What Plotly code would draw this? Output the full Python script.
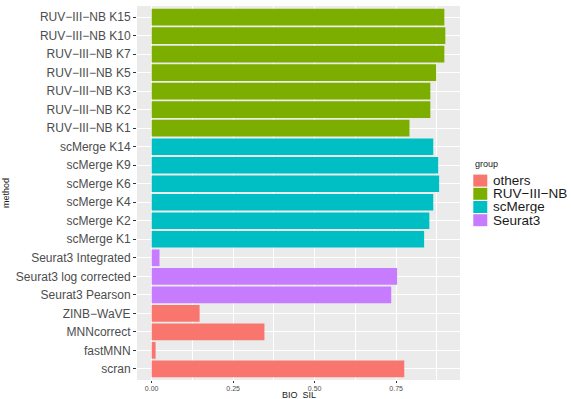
import plotly.graph_objects as go

# BIO_SIL score per method, grouped by method family (bottom-to-top display order)
methods_others = ["scran", "fastMNN", "MNNcorrect", "ZINB\u2212WaVE"]
sil_others = [0.775, 0.012, 0.346, 0.147]

methods_seurat = ["Seurat3 Pearson", "Seurat3 log corrected", "Seurat3 Integrated"]
sil_seurat = [0.735, 0.753, 0.024]

methods_scmerge = ["scMerge K1", "scMerge K2", "scMerge K4", "scMerge K6", "scMerge K9", "scMerge K14"]
sil_scmerge = [0.836, 0.852, 0.864, 0.882, 0.879, 0.864]

methods_ruv = ["RUV\u2212III\u2212NB K1", "RUV\u2212III\u2212NB K2", "RUV\u2212III\u2212NB K3",
               "RUV\u2212III\u2212NB K5", "RUV\u2212III\u2212NB K7", "RUV\u2212III\u2212NB K10",
               "RUV\u2212III\u2212NB K15"]
sil_ruv = [0.791, 0.855, 0.855, 0.873, 0.898, 0.901, 0.898]

category_order = methods_others + methods_seurat + methods_scmerge + methods_ruv

groups = [
    ("others", methods_others, sil_others, "#F8766D"),
    ("RUV\u2212III\u2212NB", methods_ruv, sil_ruv, "#7CAE00"),
    ("scMerge", methods_scmerge, sil_scmerge, "#00BFC4"),
    ("Seurat3", methods_seurat, sil_seurat, "#C77CFF"),
]

FONT = "Liberation Sans, Arial, Helvetica, sans-serif"
W, H = 571, 399
ML, MR, MT, MB = 137, 111, 6, 19
PW, PH = W - ML - MR, H - MT - MB


def px_x(x):
    return (x - ML) / PW


def px_y(y):
    return (H - MB - y) / PH


fig = go.Figure()
for name, cats, vals, color in groups:
    fig.add_trace(go.Bar(
        x=vals, y=cats, name=name, orientation="h",
        marker=dict(color=color, line=dict(width=0)),
        showlegend=False,
    ))

# ggplot-style legend: title plus filled square keys
shapes, annotations = [], []
annotations.append(dict(
    text="group", xref="paper", yref="paper", x=px_x(473), y=px_y(164),
    xanchor="left", yanchor="middle", showarrow=False,
    font=dict(size=9, color="#1A1A1A", family=FONT),
))
key_top, key_h, key_w = 174.0, 13.2, 14.0
for i, (name, _, _, color) in enumerate(groups):
    y0 = key_top + i * key_h
    shapes.append(dict(
        type="rect", xref="paper", yref="paper",
        x0=px_x(473.3), x1=px_x(473.3 + key_w),
        y0=px_y(y0 + 0.6), y1=px_y(y0 + key_h - 0.6),
        fillcolor=color, line=dict(width=0), layer="above",
    ))
    annotations.append(dict(
        text=name, xref="paper", yref="paper", x=px_x(491.5), y=px_y(y0 + key_h / 2),
        xanchor="left", yanchor="middle", showarrow=False,
        height=key_h, borderpad=0,
        font=dict(size=13.5, color="#1A1A1A", family=FONT),
    ))

# x-axis title sits just under the tick labels
annotations.append(dict(
    text="BIO_SIL", xref="paper", yref="paper", x=0.5, y=px_y(394),
    xanchor="center", yanchor="middle", showarrow=False,
    height=9, borderpad=0,
    font=dict(size=9, color="#1A1A1A", family=FONT),
))

xmax = max(sil_others + sil_seurat + sil_scmerge + sil_ruv)
pad = 0.05 * xmax

fig.update_layout(
    width=W, height=H,
    margin=dict(l=ML, r=MR, t=MT, b=MB),
    paper_bgcolor="white",
    plot_bgcolor="#EBEBEB",
    bargap=0.1,
    barmode="overlay",
    showlegend=False,
    font=dict(family=FONT, color="#4D4D4D"),
    shapes=shapes,
    annotations=annotations,
    xaxis=dict(
        range=[-pad, xmax + pad],
        tickvals=[0, 0.25, 0.5, 0.75],
        ticktext=["0.00", "0.25", "0.50", "0.75"],
        tickfont=dict(size=7, color="#4D4D4D"),
        ticks="outside", ticklen=2, tickcolor="#333333", tickwidth=1,
        showgrid=True, gridcolor="white", gridwidth=1.1,
        minor=dict(tickvals=[0.125, 0.375, 0.625, 0.875], showgrid=True,
                   gridcolor="white", gridwidth=0.5, ticks=""),
        zeroline=False, showline=False, automargin=False,
    ),
    yaxis=dict(
        categoryorder="array", categoryarray=category_order,
        range=[-0.6, len(category_order) - 0.4],
        tickfont=dict(size=12, color="#4D4D4D"),
        ticks="outside", ticklen=3, tickcolor="#333333", tickwidth=1,
        showgrid=True, gridcolor="white", gridwidth=1.1,
        zeroline=False, showline=False, automargin=False,
        title=dict(text="method", font=dict(size=9, color="#1A1A1A"), standoff=4),
    ),
)

fig.write_html("out.html")
